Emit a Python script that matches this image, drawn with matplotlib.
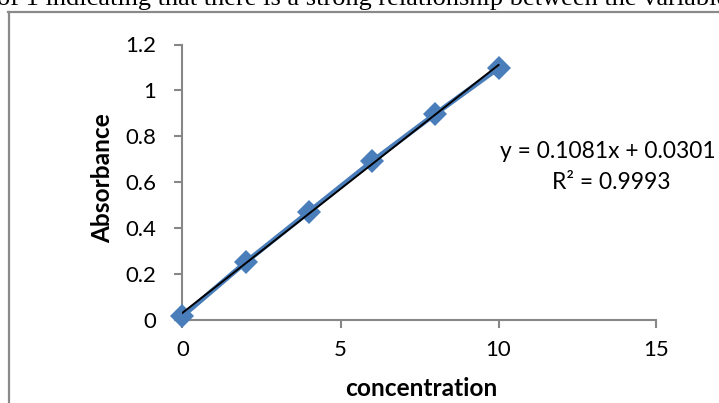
import numpy as np
import matplotlib
matplotlib.use("Agg")
import matplotlib.pyplot as plt
from matplotlib.lines import Line2D

concentration = [0, 2, 4, 6, 8, 10]
absorbance = [0.015, 0.25, 0.47, 0.69, 0.897, 1.097]
x_ticks = [0, 5, 10, 15]
y_ticks = [0, 0.2, 0.4, 0.6, 0.8, 1.0, 1.2]
y_tick_labels = ["0", "0.2", "0.4", "0.6", "0.8", "1", "1.2"]
equation_text = "y = 0.1081x + 0.0301"
r2_text = "R\u00b2 = 0.9993"
caption_text = "of 1 indicating that there is a strong relationship between the variables"

W, H = 719, 403
fig = plt.figure(figsize=(W / 100, H / 100), dpi=100)
fig.patch.set_facecolor("white")
renderer = fig.canvas.get_renderer()

def fx(px):
    return px / W

def fy(py):
    return 1 - py / H

font = "Lato"

def fit_size(txt, target_px, weight="normal", base=15.0):
    t = fig.text(0, 0, txt, fontsize=base, fontfamily=font, fontweight=weight)
    bb = t.get_window_extent(renderer=renderer)
    t.remove()
    return base * target_px / bb.width

xlabel_size = fit_size("concentration", 152, "bold")
ylabel_size = fit_size("Absorbance", 130, "bold")
tick_size = fit_size("1.2", 31)
eq_size = fit_size(equation_text, 216)

ax = fig.add_axes([fx(182.5), fy(319.5), fx(656.5) - fx(182.5), fy(44.5) - fy(319.5)])
ax.set_xlim(0, 15)
ax.set_ylim(0, 1.2)

grey = "#878787"

ax.plot(concentration, absorbance, color="#4A7EBB", linewidth=3.6,
        marker="D", markersize=12.5, markeredgewidth=0, zorder=3, clip_on=False)

slope, intercept = np.polyfit(concentration, absorbance, 1)
xs = np.array([concentration[0], concentration[-1]])
ax.plot(xs, slope * xs + intercept, color="black", linewidth=1.4, zorder=4)

for s in ["top", "right"]:
    ax.spines[s].set_visible(False)
for s in ["left", "bottom"]:
    ax.spines[s].set_color(grey)
    ax.spines[s].set_linewidth(1.5)

ax.set_xticks(x_ticks)
ax.set_xticklabels([str(v) for v in x_ticks])
ax.set_yticks(y_ticks)
ax.set_yticklabels(y_tick_labels)
ax.tick_params(axis="both", direction="out", length=6, width=1.5, color=grey,
               labelsize=tick_size)
ax.tick_params(axis="y", pad=13)
ax.tick_params(axis="x", pad=9)
for lab in ax.get_xticklabels() + ax.get_yticklabels():
    lab.set_fontfamily(font)

fig.text(fx(421), fy(388), "concentration", fontsize=xlabel_size, fontweight="bold",
         fontfamily=font, ha="center", va="center")
fig.text(fx(103), fy(178), "Absorbance", fontsize=ylabel_size, fontweight="bold",
         fontfamily=font, ha="center", va="center", rotation=90)

fig.text(fx(608), fy(152), equation_text, fontsize=eq_size, fontfamily=font,
         ha="center", va="center")
fig.text(fx(611), fy(183), r2_text, fontsize=eq_size, fontfamily=font,
         ha="center", va="center")

# document frame and caption
fig.add_artist(Line2D([fx(9), fx(9)], [fy(11.5), 0], color="#8a8a8a", linewidth=1.6))
fig.add_artist(Line2D([fx(8.2), 1], [fy(11.5), fy(11.5)], color="#8a8a8a", linewidth=1.6))
fig.text(fx(-3), fy(5.5), caption_text, fontsize=19, fontfamily="Liberation Serif",
         ha="left", va="baseline")

fig.savefig("out.png", dpi=100, facecolor="white")
